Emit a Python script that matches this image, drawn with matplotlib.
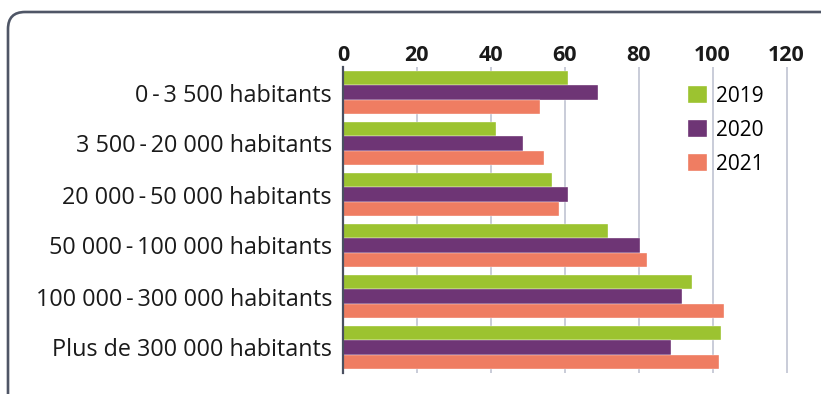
import matplotlib
matplotlib.use("Agg")
import matplotlib.pyplot as plt
import matplotlib.patches as mpatches
import numpy as np

plt.rcParams["font.family"] = ["Open Sans", "DejaVu Sans"]

categories = [
    "0\u2009-\u20093 500 habitants",
    "3 500\u2009-\u200920 000 habitants",
    "20 000\u2009-\u200950 000 habitants",
    "50 000\u2009-\u2009100 000 habitants",
    "100 000\u2009-\u2009300 000 habitants",
    "Plus de 300 000 habitants",
]
years = ["2019", "2020", "2021"]
values_2019 = [60.8, 41.3, 56.5, 71.7, 94.3, 102.2]
values_2020 = [68.9, 48.6, 61.0, 80.4, 91.8, 88.7]
values_2021 = [53.4, 54.5, 58.4, 82.2, 103.1, 101.8]
colors = ["#9cc330", "#6e3575", "#ef7d62"]
x_ticks = [0, 20, 40, 60, 80, 100, 120]

fig = plt.figure(figsize=(8.21, 3.94), dpi=100)
ax = fig.add_axes([343 / 821, 1 - 373 / 394, (805 - 343) / 821, (373 - 67) / 394])

# rounded frame around the whole chart
frame_h = (394 - 12 + 20) / 100
frame = mpatches.FancyBboxPatch(
    (8 / 100, (394 - 12) / 100 - frame_h), (850 - 8) / 100, frame_h,
    boxstyle="round,pad=0,rounding_size=0.17",
    transform=fig.dpi_scale_trans, fill=False,
    edgecolor="#4f5666", linewidth=1.9, clip_on=False,
)
fig.patches.append(frame)

y = np.arange(len(categories))
h = 0.276
for i, (vals, year) in enumerate(zip([values_2019, values_2020, values_2021], years)):
    ax.barh(y + (i - 1) * h, vals, height=h, color=colors[i], label=year,
            edgecolor="white", linewidth=0.25, zorder=3)

ax.set_xlim(0, 125)
ax.set_ylim(5.5, -0.5)
ax.set_yticks(y)
ax.set_yticklabels(categories, fontsize=16.8, color="#1a1a1a")
ax.xaxis.tick_top()
ax.set_xticks(x_ticks)
ax.set_xticklabels([str(t) for t in x_ticks], fontsize=15.5, fontweight="bold", color="#1a1a1a")
ax.tick_params(axis="both", length=0)
ax.tick_params(axis="x", pad=1)
ax.tick_params(axis="y", pad=8)

for t in x_ticks[1:]:
    ax.axvline(t, color="#c9ccd8", linewidth=1.4, zorder=1)

for side in ["top", "right", "bottom"]:
    ax.spines[side].set_visible(False)
ax.spines["left"].set_color("#4a5060")
ax.spines["left"].set_linewidth(1.6)
ax.spines["left"].set_zorder(4)

ax.legend(loc="upper left", bbox_to_anchor=(688 / 821, 1 - 86 / 394),
          bbox_transform=fig.transFigure, frameon=False, fontsize=15,
          handlelength=0.9, handleheight=0.9, handletextpad=0.45,
          labelspacing=0.62, borderpad=0, borderaxespad=0)

fig.savefig("out.png", dpi=100)
